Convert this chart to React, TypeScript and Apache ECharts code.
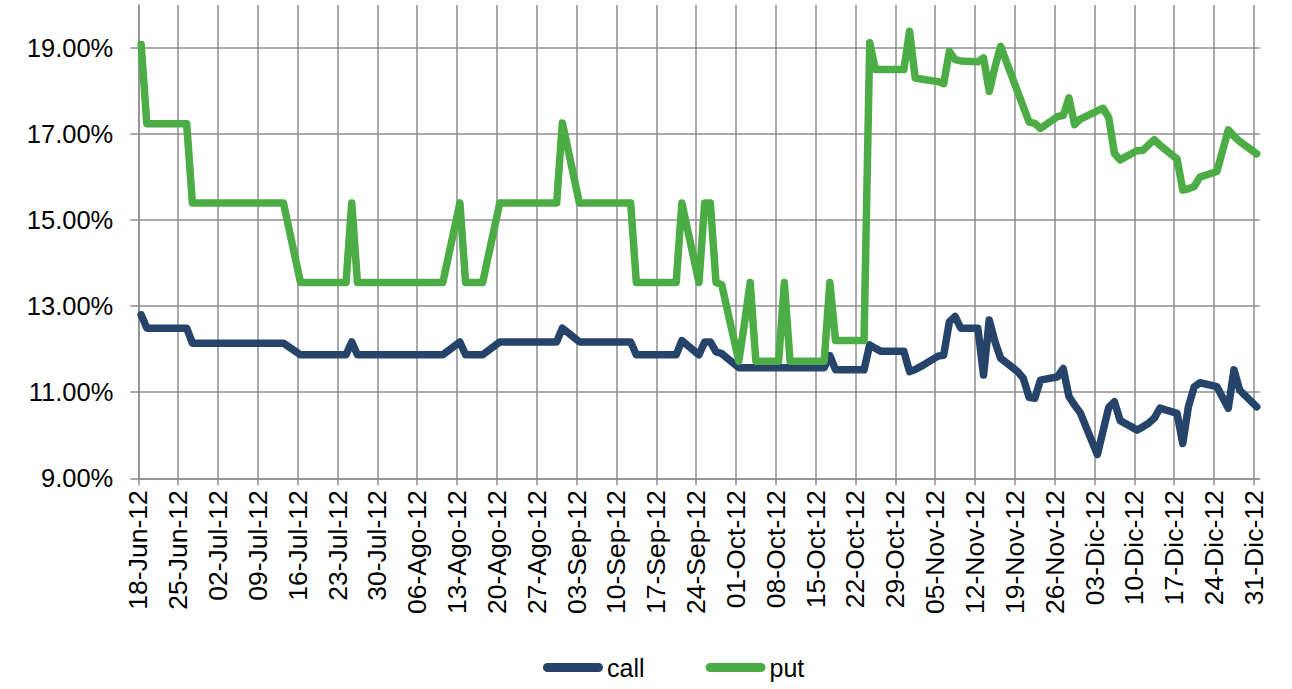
import React, { useEffect, useRef } from "react";
import * as echarts from "echarts";

const axisStart = "2012-06-18";

const tickLabels = [
  "18-Jun-12", "25-Jun-12", "02-Jul-12", "09-Jul-12", "16-Jul-12", "23-Jul-12", "30-Jul-12",
  "06-Ago-12", "13-Ago-12", "20-Ago-12", "27-Ago-12", "03-Sep-12", "10-Sep-12", "17-Sep-12",
  "24-Sep-12", "01-Oct-12", "08-Oct-12", "15-Oct-12", "22-Oct-12", "29-Oct-12", "05-Nov-12",
  "12-Nov-12", "19-Nov-12", "26-Nov-12", "03-Dic-12", "10-Dic-12", "17-Dic-12", "24-Dic-12",
  "31-Dic-12",
];

const yTicks = [9, 11, 13, 15, 17, 19];

const dates = [
  "2012-06-18", "2012-06-19", "2012-06-20", "2012-06-21", "2012-06-22",
  "2012-06-25", "2012-06-26", "2012-06-27", "2012-06-28", "2012-06-29",
  "2012-07-02", "2012-07-03", "2012-07-04", "2012-07-05", "2012-07-06",
  "2012-07-09", "2012-07-10", "2012-07-11", "2012-07-12", "2012-07-13",
  "2012-07-16", "2012-07-17", "2012-07-18", "2012-07-19", "2012-07-20",
  "2012-07-23", "2012-07-24", "2012-07-25", "2012-07-26", "2012-07-27",
  "2012-07-30", "2012-07-31", "2012-08-01", "2012-08-02", "2012-08-03",
  "2012-08-06", "2012-08-07", "2012-08-08", "2012-08-09", "2012-08-10",
  "2012-08-13", "2012-08-14", "2012-08-15", "2012-08-16", "2012-08-17",
  "2012-08-20", "2012-08-21", "2012-08-22", "2012-08-23", "2012-08-24",
  "2012-08-27", "2012-08-28", "2012-08-29", "2012-08-30", "2012-08-31",
  "2012-09-03", "2012-09-04", "2012-09-05", "2012-09-06", "2012-09-07",
  "2012-09-10", "2012-09-11", "2012-09-12", "2012-09-13", "2012-09-14",
  "2012-09-17", "2012-09-18", "2012-09-19", "2012-09-20", "2012-09-21",
  "2012-09-24", "2012-09-25", "2012-09-26", "2012-09-27", "2012-09-28",
  "2012-10-01", "2012-10-02", "2012-10-03", "2012-10-04", "2012-10-05",
  "2012-10-08", "2012-10-09", "2012-10-10", "2012-10-11", "2012-10-12",
  "2012-10-15", "2012-10-16", "2012-10-17", "2012-10-18", "2012-10-19",
  "2012-10-22", "2012-10-23", "2012-10-24", "2012-10-25", "2012-10-26",
  "2012-10-29", "2012-10-30", "2012-10-31", "2012-11-01", "2012-11-02",
  "2012-11-05", "2012-11-06", "2012-11-07", "2012-11-08", "2012-11-09",
  "2012-11-12", "2012-11-13", "2012-11-14", "2012-11-15", "2012-11-16",
  "2012-11-19", "2012-11-20", "2012-11-21", "2012-11-22", "2012-11-23",
  "2012-11-26", "2012-11-27", "2012-11-28", "2012-11-29", "2012-11-30",
  "2012-12-03", "2012-12-04", "2012-12-05", "2012-12-06", "2012-12-07",
  "2012-12-10", "2012-12-11", "2012-12-12", "2012-12-13", "2012-12-14",
  "2012-12-17", "2012-12-18", "2012-12-19", "2012-12-20", "2012-12-21",
  "2012-12-24", "2012-12-26", "2012-12-27", "2012-12-28",
  "2012-12-31",
];

const callValues = [
  12.8, 12.49, 12.49, 12.49, 12.49,
  12.49, 12.49, 12.14, 12.14, 12.14,
  12.14, 12.14, 12.14, 12.14, 12.14,
  12.14, 12.14, 12.14, 12.14, 12.14,
  11.87, 11.87, 11.87, 11.87, 11.87,
  11.87, 11.87, 12.17, 11.87, 11.87,
  11.87, 11.87, 11.87, 11.87, 11.87,
  11.87, 11.87, 11.87, 11.87, 11.87,
  12.17, 11.87, 11.87, 11.87, 11.87,
  12.17, 12.17, 12.17, 12.17, 12.17,
  12.17, 12.17, 12.17, 12.17, 12.49,
  12.17, 12.17, 12.17, 12.17, 12.17,
  12.17, 12.17, 12.17, 11.87, 11.87,
  11.87, 11.87, 11.87, 11.87, 12.2,
  11.87, 12.17, 12.17, 11.94, 11.9,
  11.57, 11.57, 11.57, 11.57, 11.57,
  11.57, 11.57, 11.57, 11.57, 11.57,
  11.57, 11.57, 11.85, 11.52, 11.52,
  11.52, 11.52, 12.1, 12.02, 11.95,
  11.95, 11.95, 11.48, 11.53, 11.6,
  11.84, 11.86, 12.64, 12.76, 12.49,
  12.49, 11.4, 12.68, 12.18, 11.79,
  11.48, 11.32, 10.88, 10.86, 11.28,
  11.36, 11.55, 10.9, 10.7, 10.52,
  9.55, 10.1, 10.65, 10.78, 10.34,
  10.12, 10.2, 10.28, 10.4, 10.63,
  10.51, 9.81, 10.67, 11.12, 11.22,
  11.13, 10.63, 11.52, 11.05,
  10.66,
];

const putValues = [
  19.08, 17.24, 17.24, 17.24, 17.24,
  17.24, 17.24, 15.4, 15.4, 15.4,
  15.4, 15.4, 15.4, 15.4, 15.4,
  15.4, 15.4, 15.4, 15.4, 15.4,
  13.55, 13.55, 13.55, 13.55, 13.55,
  13.55, 13.55, 15.4, 13.55, 13.55,
  13.55, 13.55, 13.55, 13.55, 13.55,
  13.55, 13.55, 13.55, 13.55, 13.55,
  15.4, 13.55, 13.55, 13.55, 13.55,
  15.4, 15.4, 15.4, 15.4, 15.4,
  15.4, 15.4, 15.4, 15.4, 17.26,
  15.4, 15.4, 15.4, 15.4, 15.4,
  15.4, 15.4, 15.4, 13.55, 13.55,
  13.55, 13.55, 13.55, 13.55, 15.4,
  13.55, 15.4, 15.4, 13.55, 13.5,
  11.72, 12.6, 13.55, 11.72, 11.72,
  11.72, 13.55, 11.72, 11.72, 11.72,
  11.72, 11.72, 13.55, 12.2, 12.2,
  12.2, 12.2, 19.12, 18.5, 18.5,
  18.5, 18.5, 19.39, 18.3, 18.28,
  18.22, 18.17, 18.92, 18.73, 18.7,
  18.68, 18.77, 17.99, 18.55, 19.04,
  17.98, 17.63, 17.28, 17.25, 17.13,
  17.41, 17.43, 17.84, 17.22, 17.35,
  17.54, 17.6, 17.38, 16.55, 16.4,
  16.62, 16.62, 16.75, 16.87, 16.74,
  16.42, 15.7, 15.73, 15.78, 16.0,
  16.13, 17.1, 16.95, 16.83,
  16.54,
];

const DAY_MS = 86400000;
const dayIndex = (s: string) =>
  Math.round((Date.parse(s) - Date.parse(axisStart)) / DAY_MS);
// each day occupies one slot on the date axis; points sit in the middle of their day
const toPoints = (vals: number[]) => dates.map((d, i) => [dayIndex(d) + 0.5, vals[i]]);
const xTickValues = tickLabels.map((_, i) => i * 7);
const xMax = (tickLabels.length - 1) * 7 + 1;

const FONT = "'Liberation Sans', Arial, sans-serif";
const GRID_COLOR = "#8e8e8e";
const CALL_COLOR = "#26446a";
const PUT_COLOR = "#4cac45";
const CAPSULE = "path://M4.5,0 L55.5,0 A4.5,4.5 0 0 1 55.5,9 L4.5,9 A4.5,4.5 0 0 1 4.5,0 Z";

export default function App() {
  const ref = useRef<HTMLDivElement>(null);
  useEffect(() => {
    if (!ref.current) return;
    const chart = echarts.init(ref.current, null, { renderer: "svg" });
    chart.setOption({
      animation: false,
      backgroundColor: "#ffffff",
      grid: { left: 138.3, right: 32.4, top: 5, height: 473.3, containLabel: false },
      legend: {
        data: [
          { name: "call", icon: CAPSULE },
          { name: "put", icon: CAPSULE },
        ],
        left: 543,
        top: 655,
        padding: 0,
        itemWidth: 60,
        itemHeight: 9,
        itemGap: 61,
        textStyle: { fontFamily: FONT, fontSize: 25, color: "#000", padding: [0, 0, 0, -1] },
      },
      xAxis: {
        type: "value",
        min: 0,
        max: xMax,
        axisLine: { show: true, lineStyle: { color: GRID_COLOR, width: 1.5 } },
        axisTick: {
          show: true,
          customValues: xTickValues,
          length: 7,
          lineStyle: { color: GRID_COLOR, width: 1.5 },
        },
        splitLine: { show: true, lineStyle: { color: GRID_COLOR, width: 1.5 } },
        axisLabel: {
          customValues: xTickValues,
          rotate: 90,
          margin: 12,
          fontFamily: FONT,
          fontSize: 26.5,
          color: "#000",
          formatter: (v: number) => tickLabels[Math.round(v / 7)] ?? "",
        },
      },
      yAxis: {
        type: "value",
        min: 9,
        max: 20,
        axisLine: { show: true, lineStyle: { color: GRID_COLOR, width: 1.5 } },
        axisTick: {
          show: true,
          customValues: yTicks,
          length: 8,
          lineStyle: { color: GRID_COLOR, width: 1.5 },
        },
        splitLine: { show: true, lineStyle: { color: GRID_COLOR, width: 1.5 } },
        axisLabel: {
          customValues: yTicks,
          margin: 25,
          fontFamily: FONT,
          fontSize: 25.5,
          color: "#000",
          formatter: (v: number) => v.toFixed(2) + "%",
        },
      },
      series: [
        {
          name: "call",
          type: "line",
          data: toPoints(callValues),
          symbol: "none",
          itemStyle: { color: CALL_COLOR },
          lineStyle: { color: CALL_COLOR, width: 7.5, cap: "round", join: "round" },
        },
        {
          name: "put",
          type: "line",
          data: toPoints(putValues),
          symbol: "none",
          itemStyle: { color: PUT_COLOR },
          lineStyle: { color: PUT_COLOR, width: 7.5, cap: "round", join: "round" },
        },
      ],
    });
    return () => chart.dispose();
  }, []);
  return (
    <div
      ref={ref}
      style={{ position: "fixed", left: 0, top: 0, width: 1292, height: 689, background: "#fff" }}
    />
  );
}
